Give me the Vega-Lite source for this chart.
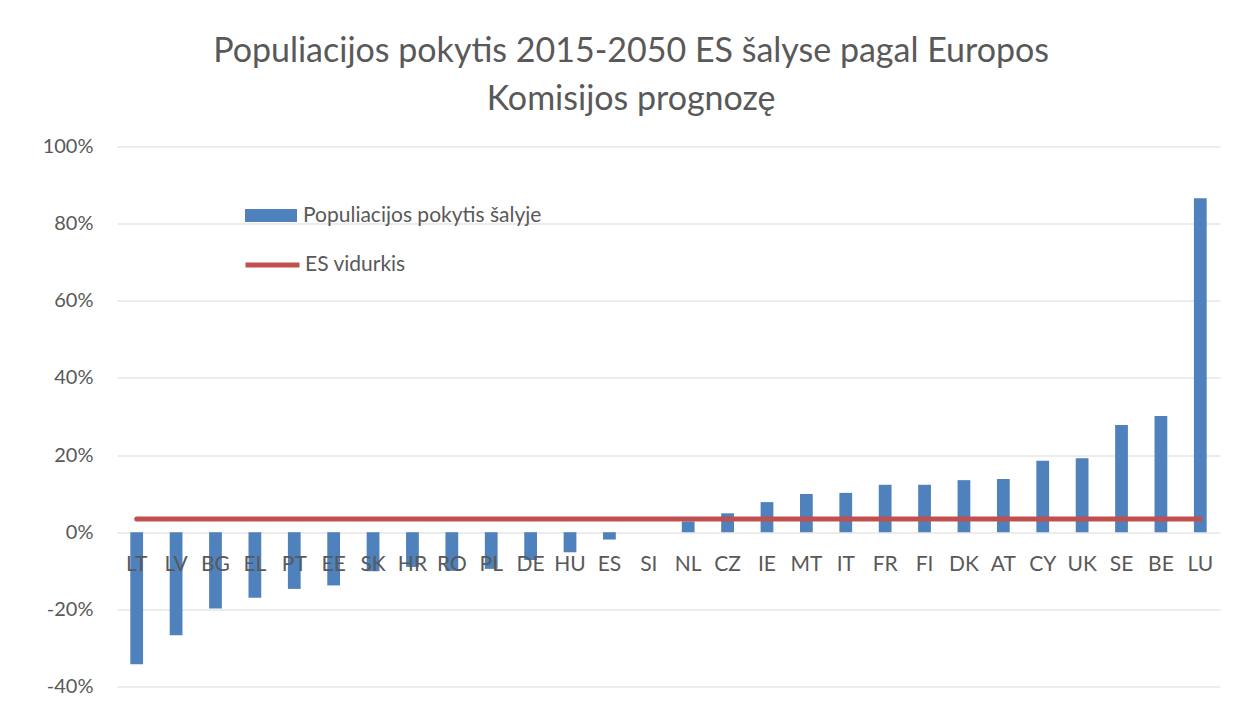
{
  "$schema": "https://vega.github.io/schema/vega-lite/v6.json",
  "width": 1103,
  "height": 540,
  "autosize": {"type": "none"},
  "padding": {"left": 117, "top": 146.5, "right": 32, "bottom": 17.5},
  "background": "white",
  "title": {
    "text": ["Populiacijos pokytis 2015-2050 ES šalyse pagal Europos", "Komisijos prognozę"],
    "font": "Lato",
    "fontSize": 34,
    "fontWeight": "normal",
    "color": "#595959",
    "lineHeight": 48,
    "anchor": "middle",
    "frame": "bounds",
    "offset": 20
  },
  "data": {
    "values": [
      {"salis": "LT", "pokytis": -34.2, "vidurkis": 3.4},
      {"salis": "LV", "pokytis": -26.7, "vidurkis": 3.4},
      {"salis": "BG", "pokytis": -19.8, "vidurkis": 3.4},
      {"salis": "EL", "pokytis": -17.0, "vidurkis": 3.4},
      {"salis": "PT", "pokytis": -14.7, "vidurkis": 3.4},
      {"salis": "EE", "pokytis": -13.8, "vidurkis": 3.4},
      {"salis": "SK", "pokytis": -10.1, "vidurkis": 3.4},
      {"salis": "HR", "pokytis": -9.0, "vidurkis": 3.4},
      {"salis": "RO", "pokytis": -10.0, "vidurkis": 3.4},
      {"salis": "PL", "pokytis": -9.5, "vidurkis": 3.4},
      {"salis": "DE", "pokytis": -7.2, "vidurkis": 3.4},
      {"salis": "HU", "pokytis": -5.2, "vidurkis": 3.4},
      {"salis": "ES", "pokytis": -1.9, "vidurkis": 3.4},
      {"salis": "SI", "pokytis": 0.0, "vidurkis": 3.4},
      {"salis": "NL", "pokytis": 2.8, "vidurkis": 3.4},
      {"salis": "CZ", "pokytis": 4.9, "vidurkis": 3.4},
      {"salis": "IE", "pokytis": 7.8, "vidurkis": 3.4},
      {"salis": "MT", "pokytis": 9.9, "vidurkis": 3.4},
      {"salis": "IT", "pokytis": 10.2, "vidurkis": 3.4},
      {"salis": "FR", "pokytis": 12.3, "vidurkis": 3.4},
      {"salis": "FI", "pokytis": 12.3, "vidurkis": 3.4},
      {"salis": "DK", "pokytis": 13.5, "vidurkis": 3.4},
      {"salis": "AT", "pokytis": 13.8, "vidurkis": 3.4},
      {"salis": "CY", "pokytis": 18.5, "vidurkis": 3.4},
      {"salis": "UK", "pokytis": 19.2, "vidurkis": 3.4},
      {"salis": "SE", "pokytis": 27.8, "vidurkis": 3.4},
      {"salis": "BE", "pokytis": 30.1, "vidurkis": 3.4},
      {"salis": "LU", "pokytis": 86.6, "vidurkis": 3.4}
    ]
  },
  "layer": [
    {
      "mark": {"type": "bar"},
      "encoding": {
        "x": {
          "field": "salis",
          "type": "nominal",
          "sort": null,
          "scale": {"paddingInner": 0.676, "paddingOuter": 0.338},
          "axis": {
            "title": null,
            "domain": false,
            "ticks": false,
            "labelAngle": 0,
            "labelFont": "Lato",
            "labelFontSize": 21,
            "labelColor": "#595959",
            "labelPadding": 21,
            "offset": -153.7,
            "zindex": 2
          }
        },
        "y": {
          "field": "pokytis",
          "type": "quantitative",
          "scale": {"domain": [-40, 100], "nice": false, "zero": false},
          "axis": {
            "title": null,
            "values": [-40, -20, 0, 20, 40, 60, 80, 100],
            "labelExpr": "datum.value + '%'",
            "domain": false,
            "ticks": false,
            "grid": true,
            "gridColor": "#D9D9D9",
            "gridWidth": 1,
            "labelFont": "Lato",
            "labelFontSize": 20,
            "labelColor": "#595959",
            "labelPadding": 24,
            "zindex": 0
          }
        },
        "fill": {
          "datum": "Populiacijos pokytis šalyje",
          "scale": {"domain": ["Populiacijos pokytis šalyje"], "range": ["#4F81BD"]},
          "legend": {
            "title": null,
            "orient": "none",
            "legendX": 128,
            "legendY": 43,
            "symbolType": "M-1,-0.25H1V0.25H-1Z",
            "symbolSize": 2704,
            "symbolStrokeWidth": 0,
            "labelFont": "Lato",
            "labelFontSize": 21,
            "labelColor": "#595959",
            "labelOffset": 6,
            "labelLimit": 400
          }
        }
      }
    },
    {
      "mark": {"type": "line", "strokeWidth": 5, "strokeCap": "round"},
      "encoding": {
        "x": {"field": "salis", "type": "nominal", "sort": null},
        "y": {"field": "vidurkis", "type": "quantitative"},
        "stroke": {
          "datum": "ES vidurkis",
          "scale": {"domain": ["ES vidurkis"], "range": ["#C0504D"]},
          "legend": {
            "title": null,
            "orient": "none",
            "legendX": 126,
            "legendY": 89,
            "symbolType": "stroke",
            "symbolSize": 2916,
            "symbolStrokeWidth": 5,
            "labelFont": "Lato",
            "labelFontSize": 21,
            "labelColor": "#595959",
            "labelOffset": 3,
            "labelLimit": 400
          }
        }
      }
    }
  ],
  "config": {
    "view": {"stroke": null}
  }
}
